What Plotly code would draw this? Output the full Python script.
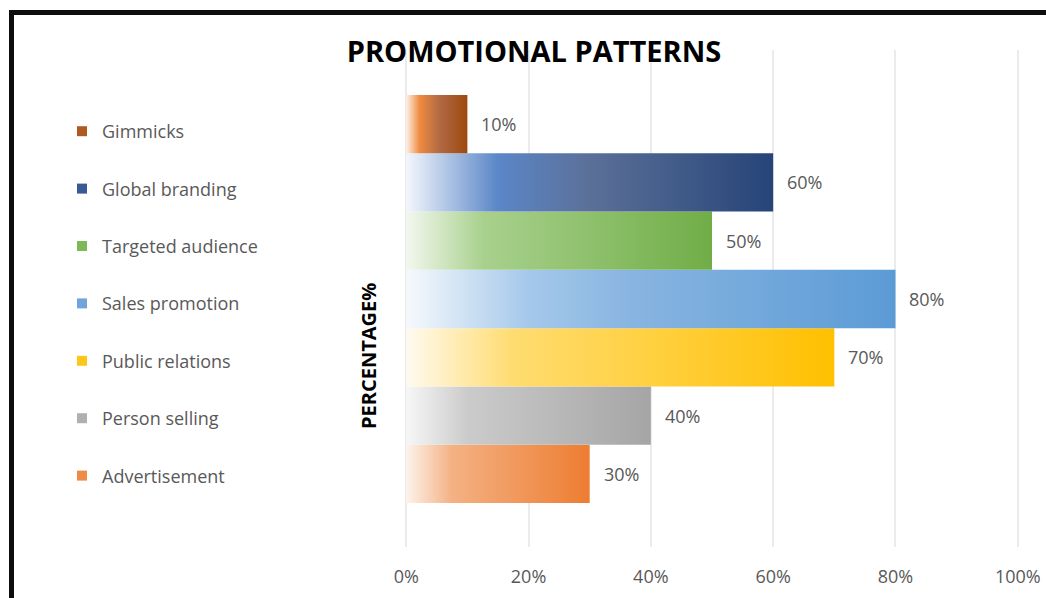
import plotly.graph_objects as go

# Promotion channels, listed bottom-to-top as drawn on the chart
categories = ["Advertisement", "Person selling", "Public relations", "Sales promotion",
              "Targeted audience", "Global branding", "Gimmicks"]
values = [30, 40, 70, 80, 50, 60, 10]
x_ticks = [0, 20, 40, 60, 80, 100]
x_tick_labels = [f"{t}%" for t in x_ticks]

# Gradient stops for each bar (light start, accent, end colour)
gradients = [
    [[0, "#fdf3ec"], [0.25, "#f4b183"], [1, "#ed7d31"]],
    [[0, "#f7f7f7"], [0.25, "#cbcbcb"], [1, "#a5a5a5"]],
    [[0, "#fffaf0"], [0.25, "#ffdc70"], [1, "#ffc000"]],
    [[0, "#f6f9fd"], [0.25, "#a5c8ea"], [0.45, "#89b5e1"], [1, "#5b9bd5"]],
    [[0, "#f3f8ef"], [0.25, "#a9d18e"], [1, "#70ad47"]],
    [[0, "#f4f7fc"], [0.25, "#5b86c8"], [0.5, "#5b7098"], [1, "#264478"]],
    [[0, "#fdf0e6"], [0.22, "#ef8a40"], [0.55, "#b06a44"], [1, "#9e480e"]],
]
# Legend swatch colours
swatches = ["#ef8a48", "#b0b0b0", "#ffc61a", "#6fa5da", "#7fb85a", "#3a5a94", "#b05a22"]

label_font = dict(family="Open Sans", size=18, color="#595959")

fig = go.Figure()

# gradient-filled horizontal bars
for i, (name, v, cs) in enumerate(zip(categories, values, gradients)):
    lo, hi = i - 0.5, i + 0.5
    fig.add_trace(go.Scatter(
        x=[0, v, v, 0, 0],
        y=[lo, lo, hi, hi, lo],
        mode="none",
        fill="toself",
        fillgradient=dict(type="horizontal", colorscale=cs, start=0, stop=v),
        name=name,
        showlegend=False,
        hoverinfo="skip",
    ))
    fig.add_annotation(
        x=v, y=i, text=f"{v}%", showarrow=False,
        xanchor="left", yanchor="middle", xshift=12,
        font=label_font,
    )

# legend entries, top entry first
for name, col in reversed(list(zip(categories, swatches))):
    fig.add_trace(go.Scatter(
        x=[None], y=[None],
        mode="markers",
        marker=dict(symbol="square", size=10, color=col),
        name=name,
        legendgroup=name,
        showlegend=True,
    ))

fig.add_annotation(
    xref="paper", yref="paper",
    x=(368 - 405) / 614, y=(547 - 356) / 497,
    text="<b>PERCENTAGE%</b>", textangle=-90, showarrow=False,
    xanchor="center", yanchor="middle",
    font=dict(family="Open Sans", size=20, color="#000000"),
)

# chart frame
fig.add_shape(
    type="rect", xref="paper", yref="paper",
    x0=(11.5 - 405) / 614, x1=1.2,
    y0=-0.3, y1=(547 - 12.5) / 497,
    line=dict(color="#0d0d0d", width=5), fillcolor="rgba(0,0,0,0)",
    layer="above",
)

fig.update_layout(
    width=1046, height=598,
    margin=dict(l=405, r=27, t=50, b=51, autoexpand=False),
    paper_bgcolor="white", plot_bgcolor="white",
    title=dict(text="<b>PROMOTIONAL PATTERNS</b>", x=534 / 1046, xanchor="center",
               y=1 - 52 / 598, yanchor="middle", xref="container", yref="container",
               font=dict(family="Open Sans", size=29, color="#000000")),
    xaxis=dict(range=[-0.2, 100.2], tickvals=x_ticks, ticktext=x_tick_labels,
               showgrid=True, gridcolor="#ebebeb", gridwidth=1.5, zeroline=False,
               showline=False, ticks="", tickfont=label_font, ticklabelstandoff=17,
               automargin=False, fixedrange=True),
    yaxis=dict(range=[-1.255, 7.272], showgrid=False, zeroline=False, showline=False,
               showticklabels=False, ticks="", automargin=False, fixedrange=True),
    legend=dict(xref="container", yref="container", x=62 / 1046, y=1 - 113 / 598,
                xanchor="left", yanchor="top", traceorder="grouped",
                tracegroupgap=31, maxheight=560, font=label_font,
                bgcolor="rgba(0,0,0,0)"),
    showlegend=True,
)

fig.write_html("out.html")
